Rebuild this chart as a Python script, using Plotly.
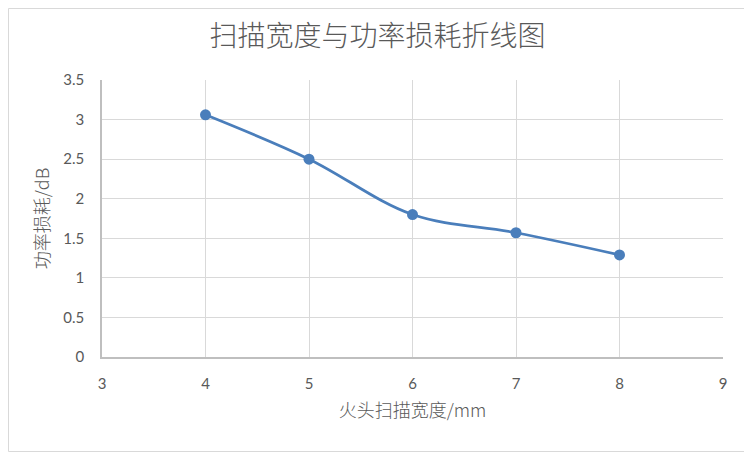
import plotly.graph_objects as go

x_width = [4, 5, 6, 7, 8]
loss_db = [3.06, 2.5, 1.8, 1.57, 1.29]
x_ticks = [3, 4, 5, 6, 7, 8, 9]
y_ticks = [0, 0.5, 1, 1.5, 2, 2.5, 3, 3.5]
y_tick_text = ["0", "0.5", "1", "1.5", "2", "2.5", "3", "3.5"]

OFF = 8  # page body margin
W, H = 752 - OFF, 452 - OFF
L, R, T, B = 102 - OFF, 29, 80 - OFF, 95
pw, ph = W - L - R, H - T - B

def px2x(px):
    return (px - L) / pw

def py2y(py):
    return (H - B - py) / ph

cjk = "Noto Sans CJK SC"
num = "Lato, Noto Sans CJK SC"

fig = go.Figure()
fig.add_trace(go.Scatter(
    x=x_width, y=loss_db, mode="lines+markers",
    line=dict(color="#4a7ebb", width=2.75, shape="spline", smoothing=1.0),
    marker=dict(size=11, color="#4a7ebb"),
    showlegend=False,
))

fig.update_layout(
    width=W, height=H,
    margin=dict(l=L, r=R, t=T, b=B),
    paper_bgcolor="white", plot_bgcolor="white",
    title=dict(text="扫描宽度与功率损耗折线图", x=(377.5 - OFF) / W, xanchor="center",
               y=1 - (36 - OFF) / H, yanchor="middle",
               font=dict(family=cjk, size=28, color="#595959", weight=300)),
    xaxis=dict(range=[3, 9], tickvals=x_ticks, showgrid=True,
               gridcolor="#d9d9d9", gridwidth=1.25, zeroline=False,
               showline=True, linecolor="#bfbfbf", linewidth=1.5,
               ticks="", ticklabelstandoff=12,
               tickfont=dict(family=num, size=15, color="#595959"),
               title=dict(text="火头扫描宽度/mm", standoff=14,
                          font=dict(family=cjk, size=18, color="#595959", weight=300))),
    yaxis=dict(range=[0, 3.5], tickvals=y_ticks, ticktext=y_tick_text,
               showgrid=True, gridcolor="#d9d9d9", gridwidth=1.25,
               zeroline=False, showline=True, linecolor="#bfbfbf",
               linewidth=1.5, ticks="", ticklabelstandoff=13,
               tickfont=dict(family=num, size=15, color="#595959"),
               title=dict(text="功率损耗/dB", standoff=9,
                          font=dict(family=cjk, size=18, color="#595959", weight=300))),
    shapes=[dict(type="rect", xref="paper", yref="paper",
                 x0=px2x(0.5), x1=px2x(W - 0.5), y0=py2y(H - 0.5), y1=py2y(0.5),
                 line=dict(color="#d9d9d9", width=1), layer="below")],
)

fig.write_html("out.html")
